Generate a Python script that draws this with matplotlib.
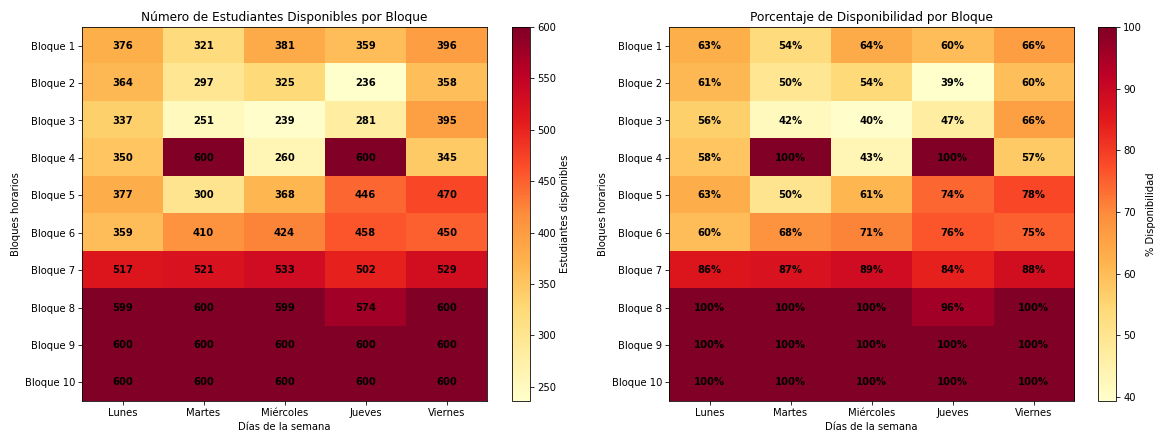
import numpy as np
import matplotlib
matplotlib.use("Agg")
import matplotlib.pyplot as plt

dias = ['Lunes', 'Martes', 'Miércoles', 'Jueves', 'Viernes']
bloques = ['Bloque %d' % i for i in range(1, 11)]
total_estudiantes = 600

# estudiantes disponibles por bloque (filas) y día (columnas)
disponibles = np.array([
    [376, 321, 381, 359, 396],
    [364, 297, 325, 236, 358],
    [337, 251, 239, 281, 395],
    [350, 600, 260, 600, 345],
    [377, 300, 368, 446, 470],
    [359, 410, 424, 458, 450],
    [517, 521, 533, 502, 529],
    [599, 600, 599, 574, 600],
    [600, 600, 600, 600, 600],
    [600, 600, 600, 600, 600],
])
porcentaje = disponibles / total_estudiantes * 100

fig = plt.figure(figsize=(16, 6.02))
ax1 = fig.add_axes([0.0708, 0.080, 0.3494, 0.858])
cax1 = fig.add_axes([0.4418, 0.080, 0.0155, 0.858])
ax2 = fig.add_axes([0.5772, 0.080, 0.3495, 0.858])
cax2 = fig.add_axes([0.9474, 0.080, 0.0155, 0.858])


def heatmap(ax, cax, datos, titulo, etiqueta, fmt):
    im = ax.imshow(datos, cmap='YlOrRd', aspect='auto')
    ax.set_xticks(np.arange(len(dias)))
    ax.set_xticklabels(dias)
    ax.set_yticks(np.arange(len(bloques)))
    ax.set_yticklabels(bloques)
    ax.set_xlabel('Días de la semana')
    ax.set_ylabel('Bloques horarios')
    ax.set_title(titulo, fontsize=12)
    for i in range(datos.shape[0]):
        for j in range(datos.shape[1]):
            ax.text(j, i, fmt(datos[i, j]), ha='center', va='center',
                    color='black', fontweight='bold')
    cb = fig.colorbar(im, cax=cax)
    cb.set_label(etiqueta)
    return im


heatmap(ax1, cax1, disponibles, 'Número de Estudiantes Disponibles por Bloque',
        'Estudiantes disponibles', lambda v: '%d' % v)
heatmap(ax2, cax2, porcentaje, 'Porcentaje de Disponibilidad por Bloque',
        '% Disponibilidad', lambda v: '%.0f%%' % v)

fig.savefig('out.png', dpi=72.44)
